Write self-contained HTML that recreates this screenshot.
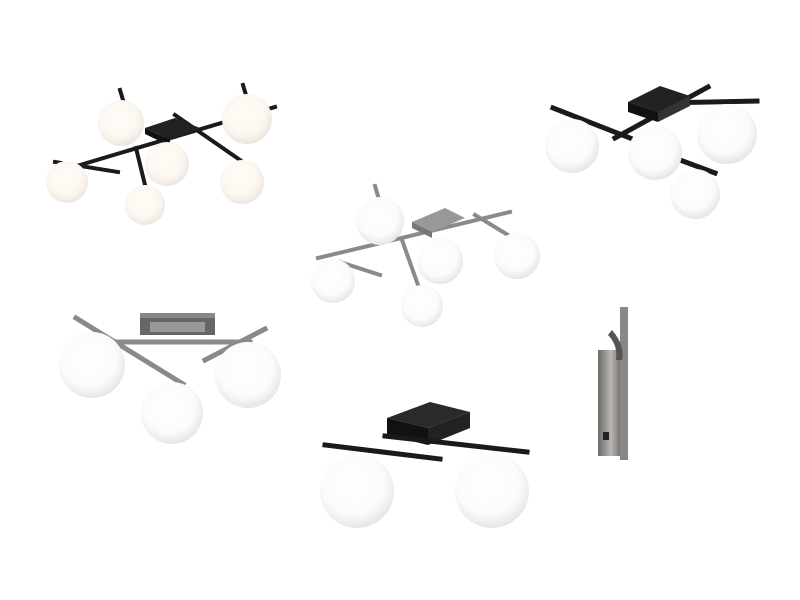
<!DOCTYPE html>
<html><head><meta charset="utf-8"><style>html,body{margin:0;padding:0;background:#fff}svg{display:block}</style></head>
<body>
<svg width="800" height="600" viewBox="0 0 800 600" xmlns="http://www.w3.org/2000/svg">
<defs>
<radialGradient id="g" cx="45%" cy="40%" r="60%">
<stop offset="0" stop-color="#ffffff"/><stop offset="0.7" stop-color="#fbfbfb"/><stop offset="1" stop-color="#e6e6e6"/></radialGradient>
<radialGradient id="w" cx="45%" cy="40%" r="60%">
<stop offset="0" stop-color="#fffdf8"/><stop offset="0.7" stop-color="#fbf7f0"/><stop offset="1" stop-color="#ebe6de"/></radialGradient>
<linearGradient id="s" x1="0" x2="1"><stop offset="0" stop-color="#6d6a68"/><stop offset=".5" stop-color="#b9b6b3"/><stop offset="1" stop-color="#5d5a58"/></linearGradient>
</defs>
<rect width="800" height="600" fill="#fff"/>

<!-- Lamp 1 -->
<g stroke="#1a1a1a" stroke-width="4" stroke-linecap="square">
<line x1="120" y1="90" x2="123" y2="100"/><line x1="243" y1="85" x2="246" y2="95"/>
<line x1="55" y1="162" x2="118" y2="172"/>
<line x1="80" y1="165" x2="275" y2="107"/>
<line x1="175" y1="115" x2="240" y2="160"/>
<line x1="136" y1="148" x2="145" y2="185"/>
</g>
<polygon points="145,128 175,118 200,128 170,140" fill="#222"/>
<polygon points="145,128 170,140 170,146 145,134" fill="#111"/>
<circle cx="121" cy="123" r="23" fill="url(#w)"/>
<circle cx="247" cy="119" r="25" fill="url(#w)"/>
<circle cx="167" cy="164" r="22" fill="url(#w)"/>
<circle cx="67" cy="182" r="21" fill="url(#w)"/>
<circle cx="145" cy="205" r="20" fill="url(#w)"/>
<circle cx="242" cy="182" r="22" fill="url(#w)"/>

<!-- Lamp 2 -->
<g stroke="#1a1a1a" stroke-width="5" stroke-linecap="square">
<line x1="553" y1="108" x2="630" y2="138"/>
<line x1="615" y1="138" x2="708" y2="87"/>
<line x1="662" y1="103" x2="757" y2="101"/>
<line x1="680" y1="160" x2="715" y2="173"/>
</g>
<polygon points="628,102 660,86 690,96 658,112" fill="#222"/>
<polygon points="628,102 658,112 658,122 628,112" fill="#111"/>
<polygon points="658,112 690,96 690,106 658,122" fill="#333"/>
<circle cx="572" cy="146" r="27" fill="url(#g)"/>
<circle cx="655" cy="153" r="27" fill="url(#g)"/>
<circle cx="727" cy="134" r="30" fill="url(#g)"/>
<circle cx="695" cy="194" r="25" fill="url(#g)"/>

<!-- Lamp 3 silver -->
<g stroke="#8c8a88" stroke-width="4" stroke-linecap="square">
<line x1="375" y1="186" x2="378" y2="196"/>
<line x1="318" y1="258" x2="510" y2="212"/>
<line x1="340" y1="262" x2="380" y2="275"/>
<line x1="475" y1="215" x2="508" y2="235"/>
<line x1="402" y1="240" x2="418" y2="285"/>
</g>
<polygon points="412,222 445,208 465,218 432,232" fill="#9a9896"/>
<polygon points="412,222 432,232 432,238 412,228" fill="#777"/>
<circle cx="380" cy="221" r="24" fill="url(#g)"/>
<circle cx="440" cy="261" r="23" fill="url(#g)"/>
<circle cx="517" cy="256" r="23" fill="url(#g)"/>
<circle cx="333" cy="281" r="22" fill="url(#g)"/>
<circle cx="422" cy="306" r="21" fill="url(#g)"/>

<!-- Lamp 4 -->
<rect x="140" y="313" width="75" height="22" fill="#666"/>
<rect x="140" y="313" width="75" height="5" fill="#888"/>
<rect x="150" y="322" width="55" height="10" fill="#999"/>
<g stroke="#8c8a88" stroke-width="5" stroke-linecap="square">
<line x1="118" y1="342" x2="250" y2="342"/>
<line x1="76" y1="318" x2="183" y2="384"/>
<line x1="205" y1="360" x2="265" y2="329"/>
</g>
<circle cx="92" cy="365" r="33" fill="url(#g)"/>
<circle cx="172" cy="413" r="31" fill="url(#g)"/>
<circle cx="248" cy="375" r="33" fill="url(#g)"/>

<!-- Lamp 5 -->
<polygon points="387,418 430,402 470,412 428,428" fill="#2a2a2a"/>
<polygon points="387,418 428,428 428,445 387,435" fill="#111"/>
<polygon points="428,428 470,412 470,428 428,445" fill="#222"/>
<g stroke="#1a1a1a" stroke-width="5" stroke-linecap="square">
<line x1="325" y1="445" x2="440" y2="459"/>
<line x1="385" y1="436" x2="527" y2="452"/>
</g>
<circle cx="357" cy="491" r="37" fill="url(#g)"/>
<circle cx="492" cy="491" r="37" fill="url(#g)"/>

<!-- Lamp 6 wall -->
<rect x="598" y="350" width="26" height="106" fill="url(#s)"/>
<path d="M620,307 L628,307 L628,460 L620,460 Z" fill="#8a8785"/>
<path d="M612,330 Q625,345 622,360 L616,360 Q618,345 608,335 Z" fill="#555"/>
<rect x="603" y="432" width="6" height="8" fill="#222"/>
</svg>
</body></html>
